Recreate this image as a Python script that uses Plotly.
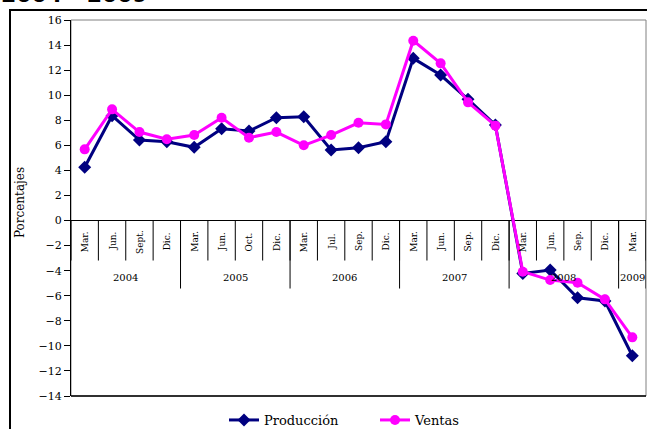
import plotly.graph_objects as go

# Quarterly series (percent change), March 2004 - March 2009
meses = ["Mar.", "Jun.", "Sept.", "Dic.",
         "Mar.", "Jun.", "Oct.", "Dic.",
         "Mar.", "Jul.", "Sep.", "Dic.",
         "Mar.", "Jun.", "Sep.", "Dic.",
         "Mar.", "Jun.", "Sep.", "Dic.",
         "Mar."]
anios = ["2004", "2005", "2006", "2007", "2008", "2009"]
meses_por_anio = [4, 4, 4, 4, 4, 1]

produccion = [4.25, 8.36, 6.42, 6.29, 5.84, 7.32, 7.14, 8.20, 8.28, 5.63, 5.81,
              6.29, 12.94, 11.61, 9.67, 7.62, -4.22, -3.95, -6.16, -6.42, -10.79]
ventas = [5.68, 8.87, 7.06, 6.48, 6.82, 8.20, 6.61, 7.06, 6.00, 6.82, 7.80,
          7.67, 14.35, 12.54, 9.43, 7.57, -4.08, -4.75, -4.96, -6.29, -9.32]

y_ticks = list(range(-14, 17, 2))

SERIF = "DejaVu Serif"
W, H = 647, 429
L, R, T, B = 71, 1, 20, 33
plot_w, plot_h = W - L - R, H - T - B

x = list(range(len(meses)))

fig = go.Figure()
fig.add_trace(go.Scatter(
    x=x, y=produccion, name="Producción", mode="lines+markers",
    line=dict(color="#000080", width=3),
    marker=dict(symbol="diamond", size=10, color="#000080"),
))
fig.add_trace(go.Scatter(
    x=x, y=ventas, name="Ventas", mode="lines+markers",
    line=dict(color="#FF00FF", width=3),
    marker=dict(symbol="circle", size=10, color="#FF00FF"),
))

shapes = []
annotations = []

# month separators hanging below the zero line
for i in range(len(meses) + 1):
    shapes.append(dict(type="line", xref="x", yref="y", ysizemode="pixel",
                       yanchor=0, x0=i - 0.5, x1=i - 0.5, y0=0, y1=-40,
                       line=dict(color="black", width=1)))
# year separators (longer)
bound = -0.5
for n in meses_por_anio:
    bound += n
    shapes.append(dict(type="line", xref="x", yref="y", ysizemode="pixel",
                       yanchor=0, x0=bound, x1=bound, y0=0, y1=-68,
                       line=dict(color="black", width=1)))

# month labels
for i, m in enumerate(meses):
    annotations.append(dict(x=i, y=0, xref="x", yref="y", text=m,
                            textangle=-90, showarrow=False, yshift=-21,
                            xanchor="center", yanchor="middle",
                            font=dict(family=SERIF, size=9, color="black")))
# year labels centred under their months
start = 0
for a, n in zip(anios, meses_por_anio):
    annotations.append(dict(x=start + (n - 1) / 2, y=0, xref="x", yref="y",
                            text=a, showarrow=False, yshift=-57,
                            xanchor="center", yanchor="middle",
                            font=dict(family=SERIF, size=10, color="black")))
    start += n

# y-axis title
annotations.append(dict(x=(20 - L) / plot_w, y=(H - B - 203) / plot_h,
                        xref="paper", yref="paper", text="Porcentajes",
                        textangle=-90, showarrow=False,
                        xanchor="center", yanchor="middle",
                        font=dict(family=SERIF, size=12, color="black")))

# plot-area border: grey top/right, black base line
shapes.append(dict(type="rect", xref="paper", yref="paper", x0=0, x1=1, y0=0, y1=1,
                   line=dict(color="#808080", width=1), layer="below"))
shapes.append(dict(type="line", xref="paper", yref="paper", x0=0, x1=1, y0=0, y1=0,
                   line=dict(color="black", width=1.5)))
# outer chart frame
shapes.append(dict(type="rect", xref="paper", yref="paper",
                   x0=(10 - L) / plot_w, x1=(W + 5 - L) / plot_w,
                   y0=(H - B - (H + 10)) / plot_h, y1=(H - B - 10) / plot_h,
                   line=dict(color="black", width=2), layer="below"))

# heading (sits above the frame, mostly beyond the top edge)
annotations.append(dict(x=(-1 - L) / plot_w, y=(H - B - 9) / plot_h,
                        xref="paper", yref="paper", text="<b>2004 - 2009</b>",
                        showarrow=False, xanchor="left", yanchor="bottom",
                        font=dict(family="DejaVu Sans", size=22, color="black")))

fig.update_layout(
    width=W, height=H,
    margin=dict(l=L, r=R, t=T, b=B, pad=0, autoexpand=False),
    paper_bgcolor="white", plot_bgcolor="white",
    showlegend=True,
    legend=dict(orientation="h", xref="container", yref="container",
                x=224 / W, y=1 - 420 / H,
                xanchor="left", yanchor="middle", entrywidth=106,
                font=dict(family=SERIF, size=13, color="black"),
                bgcolor="rgba(0,0,0,0)"),
    xaxis=dict(range=[-0.5, len(meses) - 0.5], showticklabels=False,
               showgrid=False, zeroline=False, showline=False, ticks=""),
    yaxis=dict(range=[-14, 16], tickvals=y_ticks, showgrid=False,
               zeroline=True, zerolinecolor="black", zerolinewidth=1,
               showline=True, linecolor="black", linewidth=1,
               ticks="outside", ticklen=6, tickcolor="black",
               tickfont=dict(family=SERIF, size=11, color="black")),
    shapes=shapes,
    annotations=annotations,
)

fig.write_html("out.html")
